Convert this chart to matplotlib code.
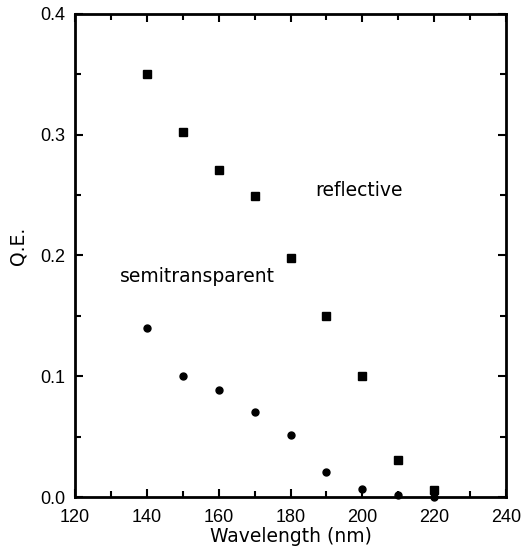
import matplotlib.pyplot as plt
from matplotlib.ticker import MultipleLocator

# Quantum efficiency vs wavelength for the two photocathode types
wavelength = [140, 150, 160, 170, 180, 190, 200, 210, 220]
qe_reflective = [0.350, 0.302, 0.271, 0.249, 0.198, 0.150, 0.100, 0.031, 0.006]
qe_semitransparent = [0.140, 0.100, 0.089, 0.070, 0.051, 0.021, 0.007, 0.002, 0.000]

plt.rcParams['font.family'] = ['Liberation Sans', 'DejaVu Sans']
label_font = dict(family=['DejaVu Sans'], fontsize=13.5)

fig = plt.figure(figsize=(5.22, 5.47), dpi=100)
ax = fig.add_axes([75 / 522, 1 - 497 / 547, (506 - 75) / 522, (497 - 14) / 547])

ax.plot(wavelength, qe_reflective, 's', color='black', markersize=6, clip_on=False)
ax.plot(wavelength, qe_semitransparent, 'o', color='black', markersize=5, clip_on=False)

ax.text(187, 0.249, 'reflective', **label_font)
ax.text(132.5, 0.178, 'semitransparent', **label_font)

ax.set_xlim(120, 240)
ax.set_ylim(0, 0.4)
ax.xaxis.set_major_locator(MultipleLocator(20))
ax.xaxis.set_minor_locator(MultipleLocator(10))
ax.yaxis.set_major_locator(MultipleLocator(0.1))
ax.yaxis.set_minor_locator(MultipleLocator(0.05))
ax.yaxis.set_major_formatter(plt.FormatStrFormatter('%.1f'))

ax.tick_params(which='both', direction='in', top=True, right=True, width=1.5, labelsize=13)
ax.tick_params(which='major', length=6)
ax.tick_params(which='minor', length=4)
ax.tick_params(axis='x', pad=9)
ax.tick_params(axis='y', pad=7)
for s in ax.spines.values():
    s.set_linewidth(2)

ax.set_xlabel('Wavelength (nm)', **label_font)
ax.xaxis.set_label_coords(0.5, -0.062)
ax.set_ylabel('Q.E.', **label_font)
ax.yaxis.set_label_coords(-0.11, 0.52)

fig.savefig('out.png', dpi=100)
